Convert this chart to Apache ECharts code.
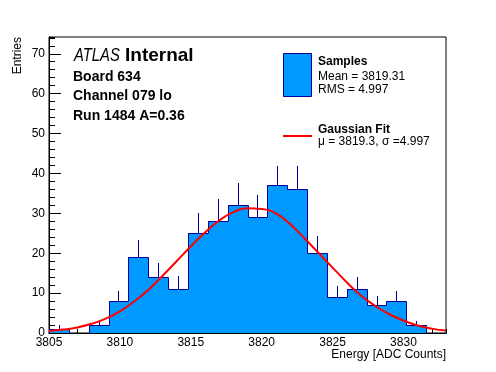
<!DOCTYPE html>
<html><head><meta charset="utf-8">
<script src="https://cdn.jsdelivr.net/npm/echarts@6/dist/echarts.min.js"></script>
<style>html,body{margin:0;padding:0;background:#fff}#c{width:496px;height:372px}</style>
</head><body><div id="c"></div>
<script>
// ---- data ----
const binEdges = [3805,3806.4,3807.8,3809.2,3810.6,3812,3813.4,3814.8,3816.2,3817.6,3819,3820.4,3821.8,3823.2,3824.6,3826,3827.4,3828.8,3830.2,3831.6,3833];
const counts   = [1,0,2,8,19,14,11,25,28,32,29,37,36,20,9,11,7,8,2,0];
const errUp    = [1,0,1,2.6,4.4,3.5,3.2,5,5.5,5.7,5.5,4.9,5.9,4.4,2.8,3.1,2.4,2.5,1,0];
const fitX = [3805,3806,3807,3808,3809,3810,3811,3812,3813,3814,3815,3816,3817,3818,3819,3820,3821,3822,3823,3824,3825,3826,3827,3828,3829,3830,3831,3832,3833];
const fitY = [0.5,0.85,1.4,2.3,3.6,5.4,7.9,10.8,14.3,18.0,21.7,25.2,28.2,30.3,31.3,31.1,30.0,27.3,23.8,20.1,16.4,12.7,9.4,6.8,4.7,3.1,1.9,1.1,0.6];
const xRange = [3805, 3833];
const yRange = [0, 74.2];
const xMajor = 5, xMinor = 1, yMajor = 10, yMinor = 2;
const titleLines = ['Board 634', 'Channel 079 lo', 'Run 1484 A=0.36'];
const legendHist = ['Samples', 'Mean = 3819.31', 'RMS = 4.997'];
const legendFit = ['Gaussian Fit', '\u03bc = 3819.3, \u03c3 =4.997'];
const xTitle = 'Energy [ADC Counts]';
const yTitle = 'Entries';

// ---- styles ----
const FILL = '#0099ff', EDGE = '#000099', RED = '#ff0000';
const FONT = '"Liberation Sans", Arial, Helvetica, sans-serif';

const histData = counts.map((v, i) => [binEdges[i], binEdges[i+1], v, errUp[i], i > 0 ? counts[i-1] : 0, i === counts.length - 1 ? 1 : 0]);
const fitData = fitX.map((x, i) => [x, fitY[i]]);

const cr = v => Math.round(v) + 0.5;

function renderHist(params, api) {
  const lo = api.value(0), hi = api.value(1), v = api.value(2), e = api.value(3), prev = api.value(4), last = api.value(5);
  const b = api.coord([lo, 0]), t = api.coord([hi, v]);
  const x0 = Math.round(b[0]), x1 = Math.round(t[0]), yb = Math.round(b[1]), yt = Math.round(t[1]);
  const ch = [];
  if (v > 0) ch.push({type: 'rect', shape: {x: x0, y: yt, width: x1 - x0, height: yb - yt}, style: {fill: FILL}});
  const yp = Math.round(api.coord([lo, prev])[1]);
  const pts = [[x0 + 0.5, yp + 0.5], [x0 + 0.5, yt + 0.5], [x1 + 0.5, yt + 0.5]];
  if (last) pts.push([x1 + 0.5, yb + 0.5]);
  ch.push({type: 'polyline', shape: {points: pts}, style: {stroke: EDGE, lineWidth: 1, fill: null}});
  if (e > 0) {
    const c = (lo + hi) / 2;
    const a = api.coord([c, v]), bb = api.coord([c, v + e]);
    ch.push({type: 'line', shape: {x1: cr(a[0]), y1: Math.round(a[1]), x2: cr(a[0]), y2: Math.round(bb[1])}, style: {stroke: EDGE, lineWidth: 1}});
  }
  return {type: 'group', children: ch};
}

function txt(text, x, y, size, weight, style, align) {
  return {type: 'text', x: x, y: y, silent: true, style: {text: text, fontFamily: FONT, fontSize: size, fontWeight: weight || 'normal', fontStyle: style || 'normal', fill: '#000', align: align || 'left', verticalAlign: 'middle'}};
}

const chart = echarts.init(document.getElementById('c'), null, {renderer: 'canvas'});
const axisCommon = {
  axisLine: {show: true, lineStyle: {color: '#000', width: 1}},
  splitLine: {show: false},
};
chart.setOption({
  animation: false,
  backgroundColor: '#fff',
  grid: {left: 49, right: 50, top: 37, bottom: 39, show: true, borderColor: '#000', borderWidth: 1, backgroundColor: 'transparent'},
  xAxis: [
    Object.assign({type: 'value', min: xRange[0], max: xRange[1], interval: xMajor, position: 'bottom',
      axisTick: {show: true, inside: true, length: 8, lineStyle: {color: '#000'}},
      axisLabel: {show: true, color: '#000', fontFamily: FONT, fontSize: 12, margin: 4, showMaxLabel: false, formatter: v => String(v)}}, axisCommon),
    Object.assign({type: 'value', min: xRange[0], max: xRange[1], interval: xMinor, position: 'bottom',
      axisTick: {show: true, inside: true, length: 4, lineStyle: {color: '#000'}},
      axisLabel: {show: false}}, axisCommon)
  ],
  yAxis: [
    Object.assign({type: 'value', min: yRange[0], max: yRange[1], interval: yMajor, position: 'left',
      axisTick: {show: true, inside: true, length: 12, lineStyle: {color: '#000'}},
      axisLabel: {show: true, color: '#000', fontFamily: FONT, fontSize: 12, margin: 4, showMaxLabel: false}}, axisCommon),
    Object.assign({type: 'value', min: yRange[0], max: yRange[1], interval: yMinor, position: 'left',
      axisTick: {show: true, inside: true, length: 6, lineStyle: {color: '#000'}},
      axisLabel: {show: false}}, axisCommon)
  ],
  series: [
    {type: 'custom', name: 'Samples', xAxisIndex: 0, yAxisIndex: 0, renderItem: renderHist, data: histData, z: 2, clip: true,
      encode: {x: [0, 1], y: 2}},
    {type: 'line', name: 'Gaussian Fit', xAxisIndex: 0, yAxisIndex: 0, data: fitData, smooth: true, showSymbol: false, symbol: 'none',
      lineStyle: {color: RED, width: 2}, z: 5, clip: true}
  ],
  graphic: [
    Object.assign(txt('ATLAS', 74, 56, 19, 'normal', 'italic'), {scaleX: 0.78}),
    txt('Internal', 125, 56, 19, 'bold'),
    txt(titleLines[0], 73, 77, 14, 'bold'),
    txt(titleLines[1], 73, 96.5, 14, 'bold'),
    txt(titleLines[2], 73, 116, 14, 'bold'),
    {type: 'rect', shape: {x: 283.5, y: 53.5, width: 28, height: 43}, style: {fill: FILL, stroke: EDGE, lineWidth: 1}},
    txt(legendHist[0], 318, 61.5, 12, 'bold'),
    txt(legendHist[1], 318, 76.5, 12),
    txt(legendHist[2], 318, 90, 12),
    {type: 'line', shape: {x1: 283, y1: 136, x2: 312, y2: 136}, style: {stroke: RED, lineWidth: 2}},
    txt(legendFit[0], 318, 130, 12, 'bold'),
    txt(legendFit[1], 318, 141.5, 12),
    txt(xTitle, 446, 355, 12, 'normal', 'normal', 'right'),
    Object.assign(txt(yTitle, 18, 37, 12, 'normal', 'normal', 'right'), {rotation: Math.PI / 2})
  ]
});
</script></body></html>
